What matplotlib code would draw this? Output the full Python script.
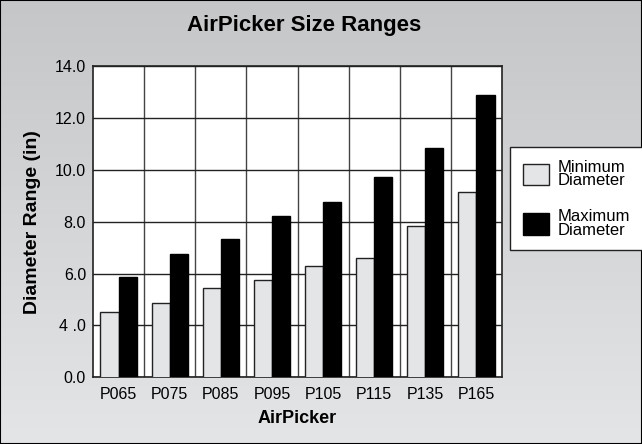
import numpy as np
import matplotlib
matplotlib.use('Agg')
import matplotlib.pyplot as plt
from matplotlib.patches import Patch
from matplotlib.colors import LinearSegmentedColormap

plt.rcParams['font.family'] = ['Liberation Sans Narrow', 'Liberation Sans', 'DejaVu Sans']

# Data (axis labels as printed on the original chart)
models = ['P065', 'P075', 'P085', 'P095', 'P105', 'P115', 'P135', 'P165']
min_diameter = [4.5, 4.87, 5.43, 5.75, 6.29, 6.59, 7.83, 9.16]
max_diameter = [5.86, 6.77, 7.33, 8.21, 8.77, 9.73, 10.84, 12.88]
ytick_values = [2, 4, 6, 8, 10, 12, 14]
ytick_labels = ['0.0', '4 .0', '6.0', '8.0', '10.0', '12.0', '14.0']

fig = plt.figure(figsize=(6.42, 4.44), dpi=100)

# gradient background
bg = fig.add_axes([0, 0, 1, 1], zorder=-10)
grad = np.linspace(0, 1, 256).reshape(-1, 1)
cmap = LinearSegmentedColormap.from_list('bg', ['#c5c6c8', '#e4e5e7'])
bg.imshow(grad, aspect='auto', cmap=cmap, extent=[0, 1, 0, 1], origin='upper')
bg.set_xlim(0, 1)
bg.set_ylim(0, 1)
bg.axis('off')
fig.patches.append(plt.Rectangle((0, 0), 1, 1, transform=fig.transFigure,
                                 fill=False, edgecolor='black', lw=1.5))

ax = fig.add_axes([93/642, 1-377.3/444, (502-93)/642, (377.3-66)/444])
ax.set_facecolor('white')

x = np.arange(len(models))
w = 0.355
ax.bar(x - w/2, min_diameter, width=w, color='#e4e5e7', edgecolor='#222222',
       linewidth=1, zorder=3)
ax.bar(x + w/2, max_diameter, width=w, color='black', edgecolor='black',
       linewidth=1, zorder=3)

ax.set_xlim(-0.5, len(models) - 0.5)
ax.set_ylim(2, 14)
ax.set_yticks(ytick_values)
ax.set_yticklabels(ytick_labels, fontsize=11.5)
ax.set_xticks(x)
ax.set_xticklabels(models, fontsize=11.5)
ax.set_xticks(x[:-1] + 0.5, minor=True)
ax.tick_params(axis='both', which='both', length=0)
ax.tick_params(axis='x', pad=7)
ax.tick_params(axis='y', pad=5)
ax.grid(axis='y', which='major', color='#222222', lw=1, zorder=1)
ax.grid(axis='x', which='minor', color='#444444', lw=1, zorder=1)
ax.set_axisbelow(True)
for s in ax.spines.values():
    s.set_color('#222222')
    s.set_linewidth(1.2)

ax.set_ylabel('Diameter Range (in)', fontsize=14, fontweight='bold', labelpad=10)
ax.set_xlabel('AirPicker', fontsize=13, fontweight='bold', labelpad=6)

fig.text(304/642, 1-25/444, 'AirPicker Size Ranges', fontsize=16, fontweight='bold',
         ha='center', va='center')

handles = [Patch(facecolor='#e4e5e7', edgecolor='#222222', lw=1),
           Patch(facecolor='black', edgecolor='black', lw=1)]
leg = fig.legend(handles, ['Minimum\nDiameter', 'Maximum\nDiameter'],
                 loc='upper left', bbox_to_anchor=(510/642, 1-147/444),
                 borderaxespad=0, fontsize=12, handlelength=1.6,
                 handleheight=1.6, labelspacing=1.25, handletextpad=0.5,
                 borderpad=0.75, fancybox=False, framealpha=1)
leg.get_frame().set_edgecolor('#222222')
leg.get_frame().set_linewidth(1)
for t in leg.get_texts():
    t.set_linespacing(0.9)

fig.savefig('out.png', dpi=100)
